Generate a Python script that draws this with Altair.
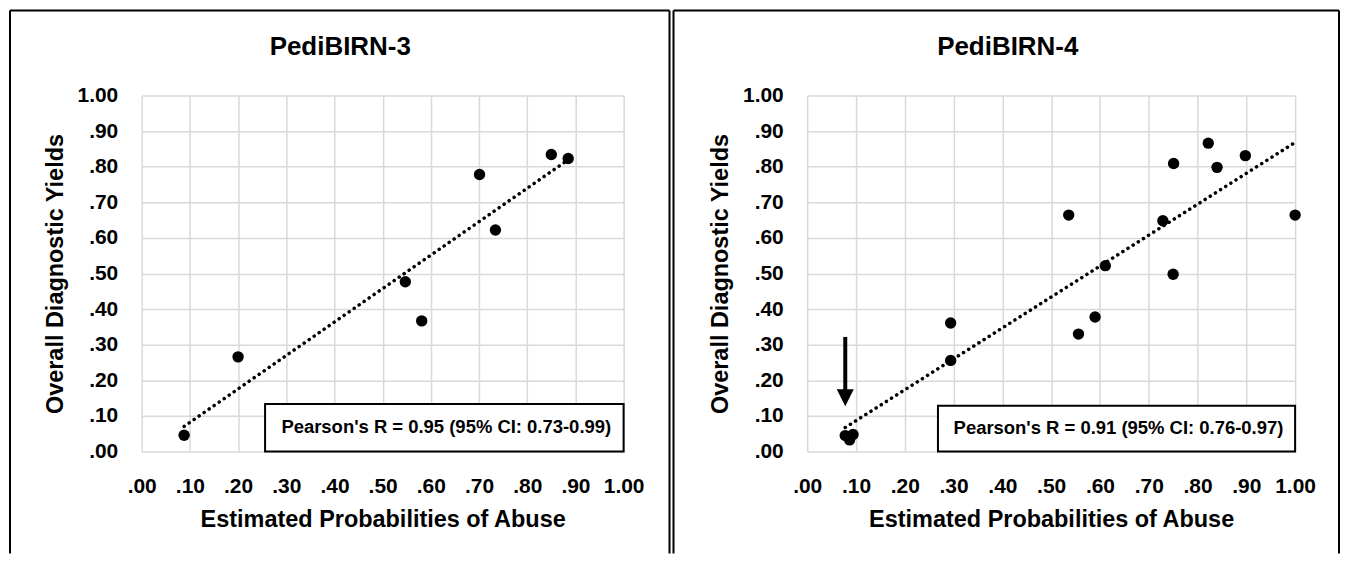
import altair as alt
import pandas as pd

# ---------------- data ----------------
TICKS = [0.0, 0.1, 0.2, 0.3, 0.4, 0.5, 0.6, 0.7, 0.8, 0.9, 1.0]

P3_PROB = [0.088, 0.200, 0.547, 0.581, 0.701, 0.734, 0.850, 0.885]
P3_YIELD = [0.046, 0.266, 0.477, 0.367, 0.778, 0.622, 0.834, 0.823]

P4_PROB = [0.078, 0.094, 0.087, 0.294, 0.294, 0.536, 0.556, 0.590,
           0.611, 0.729, 0.750, 0.751, 0.822, 0.840, 0.898, 1.000]
P4_YIELD = [0.045, 0.048, 0.033, 0.361, 0.256, 0.664, 0.330, 0.378,
            0.522, 0.648, 0.498, 0.809, 0.866, 0.798, 0.831, 0.664]

TITLES = ["PediBIRN-3", "PediBIRN-4"]
X_TITLE = "Estimated Probabilities of Abuse"
Y_TITLE = "Overall Diagnostic Yields"
PEARSON = ["Pearson's R = 0.95 (95% CI: 0.73-0.99)",
           "Pearson's R = 0.91 (95% CI: 0.76-0.97)"]
# annotation box extent in data units (left edge, top edge)
BOX_LEFT = [0.256, 0.268]
BOX_TOP = [0.134, 0.129]
# arrow pointing at the low cluster (PediBIRN-4), data units
ARROW_X = 0.078
ARROW_TOP = 0.322
ARROW_SHAFT_END = 0.17
ARROW_HEAD = 0.151

FONT = "Liberation Sans, Arial, sans-serif"
LABEL_EXPR = "datum.value >= 1 ? '1.00' : '.' + format(round(datum.value * 100), '02d')"


def panel(title, xs, ys, pearson, box_left, box_top, width, frame, title_x, arrow=False):
    df = pd.DataFrame({"prob": xs, "yield": ys})
    sc = alt.Scale(domain=[0, 1], nice=False, zero=False)
    x_axis = alt.Axis(values=TICKS, labelExpr=LABEL_EXPR, title=X_TITLE,
                      grid=True, labelFlush=False, labelOverlap=False)
    y_axis = alt.Axis(values=TICKS, labelExpr=LABEL_EXPR, title=Y_TITLE,
                      grid=True, labelFlush=False, labelOverlap=False)

    def X(f="prob"):
        return alt.X(f"{f}:Q", scale=sc, axis=x_axis, title=X_TITLE)

    def Y(f="yield"):
        return alt.Y(f"{f}:Q", scale=sc, axis=y_axis, title=Y_TITLE)

    trend = alt.Chart(df).transform_regression("prob", "yield").mark_line(
        color="black", strokeWidth=3.5, strokeDash=[0.1, 6.0], strokeCap="round"
    ).encode(x=X(), y=Y())

    pts = alt.Chart(df).mark_circle(size=130, color="black", opacity=1).encode(x=X(), y=Y())

    box_df = pd.DataFrame({"prob": [box_left], "prob2": [1.0],
                           "yield": [0.0], "yield2": [box_top]})
    box = alt.Chart(box_df).mark_rect(fill="white", stroke="black", strokeWidth=2).encode(
        x=X(), x2="prob2:Q", y=Y(), y2="yield2:Q")

    txt_df = pd.DataFrame({"prob": [(box_left + 1.0) / 2 + 0.004],
                           "yield": [box_top / 2 + 0.002], "label": [pearson]})
    txt = alt.Chart(txt_df).mark_text(font=FONT, fontSize=18.5, fontWeight="bold",
                                      color="black", align="center", baseline="middle").encode(
        x=X(), y=Y(), text="label:N")

    one = pd.DataFrame({"k": [0], "title": [title]})
    fl, fr, ft, fb = frame
    frame_left = alt.Chart(one).mark_rule(color="black", strokeWidth=2).encode(
        x=alt.value(fl), y=alt.value(ft), y2=alt.value(fb))
    frame_right = alt.Chart(one).mark_rule(color="black", strokeWidth=2).encode(
        x=alt.value(fr), y=alt.value(ft), y2=alt.value(fb))
    frame_top = alt.Chart(one).mark_rule(color="black", strokeWidth=2).encode(
        x=alt.value(fl), x2=alt.value(fr), y=alt.value(ft))
    head_title = alt.Chart(one).mark_text(font=FONT, fontSize=26, fontWeight="bold",
                                          color="black", align="center",
                                          baseline="alphabetic").encode(
        x=alt.value(title_x), y=alt.value(-41), text="title:N")

    layers = [frame_left, frame_right, frame_top, head_title, trend, pts, box, txt]

    if arrow:
        a_df = pd.DataFrame({"prob": [ARROW_X], "yield": [ARROW_TOP], "yield2": [ARROW_SHAFT_END]})
        shaft = alt.Chart(a_df).mark_rule(color="black", strokeWidth=4).encode(
            x=X(), y=Y(), y2="yield2:Q")
        h_df = pd.DataFrame({"prob": [ARROW_X], "yield": [ARROW_HEAD]})
        head = alt.Chart(h_df).mark_point(shape="M-1,-1L1,-1L0,1Z", filled=True, size=290,
                                          color="black", opacity=1).encode(x=X(), y=Y())
        layers += [shaft, head]

    return alt.layer(*layers).properties(width=width, height=357)


left = panel(TITLES[0], P3_PROB, P3_YIELD, PEARSON[0], BOX_LEFT[0], BOX_TOP[0],
             483, (-132, 529, -85, 459), 199)
right = panel(TITLES[1], P4_PROB, P4_YIELD, PEARSON[1], BOX_LEFT[1], BOX_TOP[1],
              489, (-134, 533, -85, 459), 201, arrow=True)

chart = alt.hconcat(left, right, spacing=0).properties(padding=0).configure_axis(
    labelFont=FONT, labelFontSize=21, labelFontWeight="bold", labelColor="black",
    titleFont=FONT, titleFontSize=23.5, titleFontWeight="bold", titleColor="black",
    domain=False, ticks=False, tickSize=0, gridColor="#d9d9d9", gridWidth=1.5,
    labelPadding=24,
).configure_axisX(titlePadding=11).configure_axisY(titlePadding=10).configure_view(
    stroke="transparent")

chart.save("out.html", embed_options={"renderer": "svg", "actions": False})
